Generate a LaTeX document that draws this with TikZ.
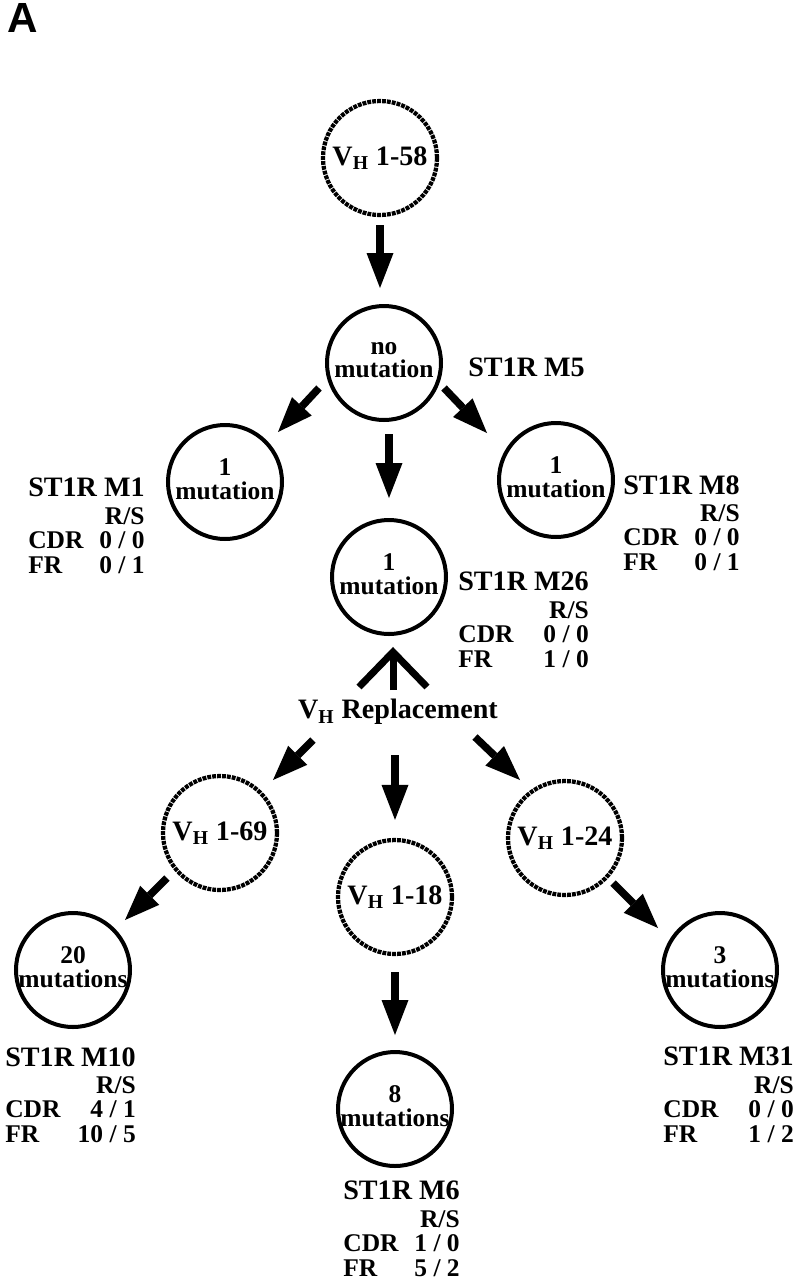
\documentclass[tikz,border=0pt]{standalone}
\usepackage{fontspec}
\setmainfont{Liberation Serif}
\newfontfamily\panelfont{Liberation Sans}
\usetikzlibrary{arrows.meta,calc}

\newcommand{\rstable}[3]{%
  \begin{tabular}{@{}l@{}}
    {\fontsize{16}{16}\selectfont #1}\\[1.5pt]
    \hfill R/S\\
    CDR\hfill #2\\
    FR\hfill #3
  \end{tabular}}
\newcommand{\twoline}[2]{\makebox[0pt]{#1}\\\makebox[0pt]{#2}}
\newcommand{\vh}[1]{V\textsubscript{H} #1}

\begin{document}
\begin{tikzpicture}[x=0.2mm, y=-0.2mm,
    ring/.style={circle, draw, minimum size=22.8mm, inner sep=0pt, align=center},
    mut/.style={ring, line width=0.8mm, text depth=1.2mm, font=\fontsize{14.5}{13.5}\selectfont\bfseries},
    germ/.style={ring, line width=0.85mm, dash pattern=on 2.2pt off 0.6pt, font=\fontsize{16}{16}\selectfont\bfseries},
    lbl/.style={inner sep=0pt, font=\fontsize{16}{16}\selectfont\bfseries},
    stats/.style={inner sep=0pt, font=\fontsize{14.5}{14}\selectfont\bfseries},
    line/.style={draw, line width=1.5mm, -{Triangle[length=7mm, width=5.4mm, line width=0pt]}},
    fork/.style={draw, line width=1.4mm, line join=miter}]

    \useasboundingbox (0,0) rectangle (800,1280);

    \node [anchor=north west, inner sep=0pt, font=\panelfont\bfseries\fontsize{24}{24}\selectfont] (panel) at (7,3) {A};

    % germline and first clones
    \node [germ] (v158) at (380,158) {\vh{1-58}};
    \node [mut] (nomut) at (384,363) {\twoline{no}{mutation}};
    \node [mut] (left1) at (225,482) {\twoline{1}{mutation}};
    \node [mut] (right1) at (556,480) {\twoline{1}{mutation}};
    \node [mut] (center1) at (389,577) {\twoline{1}{mutation}};

    \node [lbl, anchor=west] (m5) at (468,367) {ST1R M5};
    \node [stats, anchor=north east] (m1) at (145,478) {\rstable{ST1R M1}{0 / 0}{0 / 1}};
    \node [stats, anchor=north west] (m8) at (623,475) {\rstable{ST1R M8}{0 / 0}{0 / 1}};
    \node [stats, anchor=north west] (m26) at (458,572) {\rstable{ST1R M26}{0 / 0}{1 / 0}};

    % replacement
    \node [lbl] (rep) at (398,712) {\vh{Replacement}};
    \node [germ] (v169) at (220,833) {\vh{1-69}};
    \node [germ] (v118) at (395,897) {\vh{1-18}};
    \node [germ] (v124) at (565,838) {\vh{1-24}};
    \node [mut] (mut20) at (73,970) {\twoline{20}{mutations}};
    \node [mut] (mut8) at (395,1109) {\twoline{8}{mutations}};
    \node [mut] (mut3) at (720,970) {\twoline{3}{mutations}};

    \node [stats, anchor=north west] (m10) at (5,1047) {\rstable{ST1R M10}{4 / 1}{10 / 5}};
    \node [stats, anchor=north west] (m6) at (343,1181) {\rstable{ST1R M6}{1 / 0}{5 / 2}};
    \node [stats, anchor=north west] (m31) at (663,1047) {\rstable{ST1R M31}{0 / 0}{1 / 2}};

    \path [line, shorten <=1.6mm, shorten >=3.2mm] (v158.south) -- (v158.south |- nomut.north);
    \path [line] ($(nomut)+(-65,25)$) -- ($(left1)+(53,-50)$);
    \path [line] ($(nomut)+(60,25)$) -- ($(right1)+(-69,-47)$);
    \path [line, shorten <=2.4mm, shorten >=4mm] (nomut.south -| center1.north) -- (center1.north);

    \path [fork] ($(center1.south)+(4,54)$) -- ($(center1.south)+(4,16)$) coordinate (apex);
    \path [fork] ($(apex)+(-34,35)$) -- (apex) -- ($(apex)+(34,35)$);

    \path [line] ($(rep)+(-85,28)$) -- ($(v169)+(53,-53)$);
    \path [line] ($(rep)+(-3,43)$) -- ($(v118.north)+(0,-18)$);
    \path [line] ($(rep)+(77,25)$) -- ($(v124)+(-45,-58)$);
    \path [line] ($(v169)+(-53,45)$) -- ($(mut20)+(52,-50)$);
    \path [line, shorten <=3.2mm, shorten >=3mm] (v118.south) -- (mut8.north);
    \path [line] ($(v124)+(48,45)$) -- ($(mut3)+(-62,-42)$);
\end{tikzpicture}
\end{document}
